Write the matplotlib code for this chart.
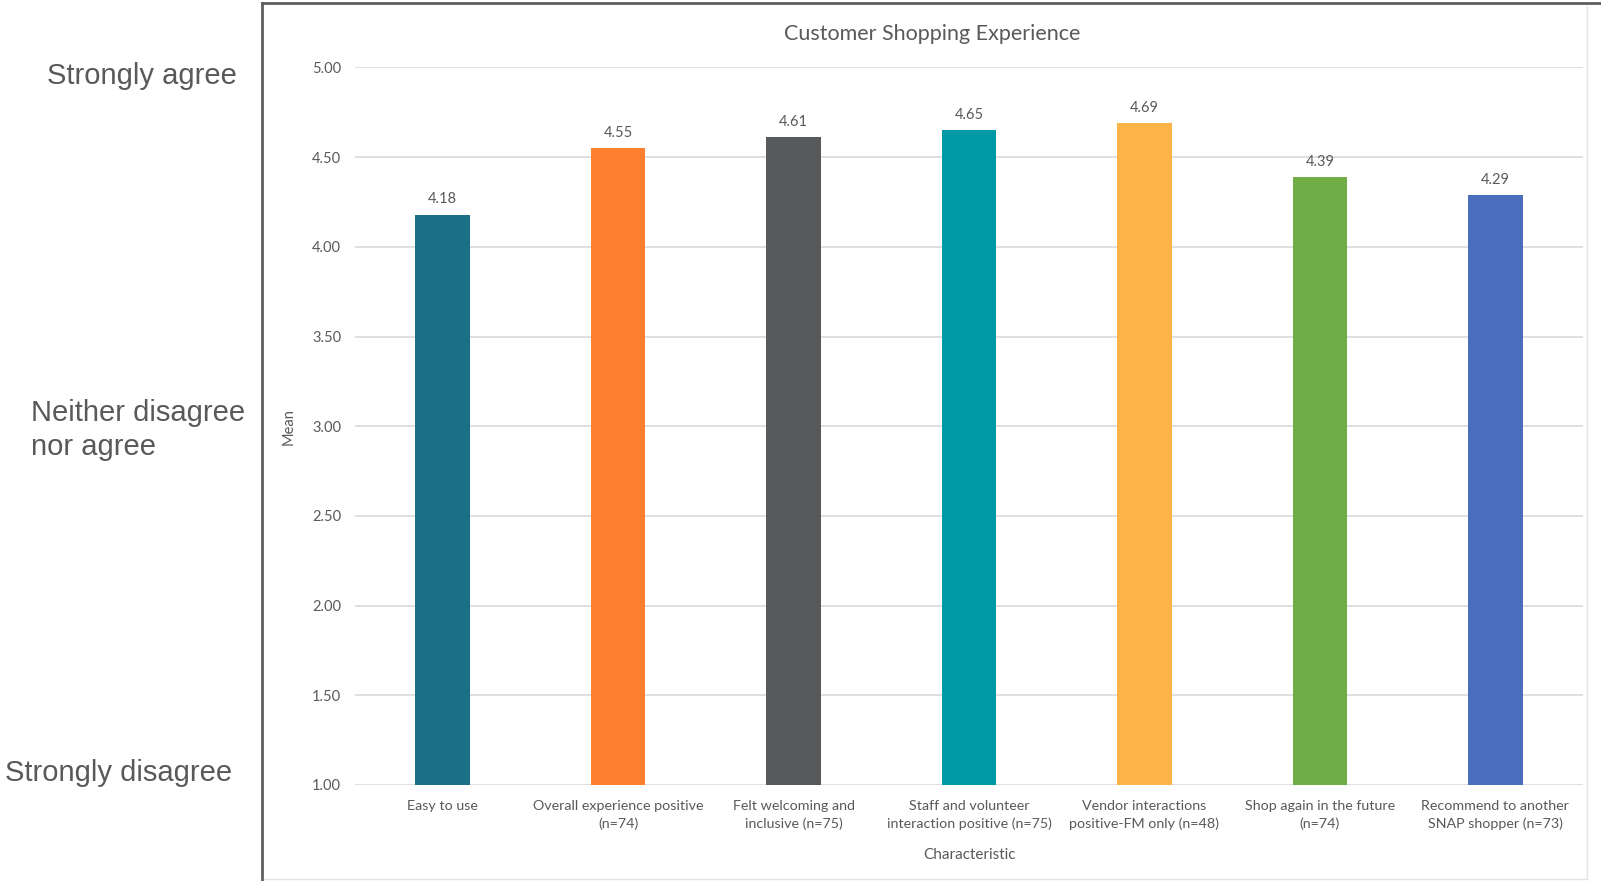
import numpy as np
import matplotlib.pyplot as plt
from matplotlib.lines import Line2D

# dados da pesquisa (media por caracteristica)
categorias = [
    "Easy to use",
    "Overall experience positive\n(n=74)",
    "Felt welcoming and\ninclusive (n=75)",
    "Staff and volunteer\ninteraction positive (n=75)",
    "Vendor interactions\npositive-FM only (n=48)",
    "Shop again in the future\n(n=74)",
    "Recommend to another\nSNAP shopper (n=73)",
]
medias = [4.18, 4.55, 4.61, 4.65, 4.69, 4.39, 4.29]
cores = ["#1B6F86", "#FE7F2D", "#58595B", "#009AA6", "#FDB347", "#70AD47", "#4A6EBB"]
ticks_y = [1.0, 1.5, 2.0, 2.5, 3.0, 3.5, 4.0, 4.5, 5.0]
escala_texto = ["Strongly agree", "Neither disagree\nnor agree", "Strongly disagree"]

cinza = "#595959"
fonte = ["Lato", "DejaVu Sans"]

fig = plt.figure(figsize=(16.01, 8.81), dpi=100)
ax = fig.add_axes([0.2217, 0.109, 0.9888 - 0.2217, 0.9234 - 0.109])

x = np.arange(len(categorias))
barras = ax.bar(x, medias, width=0.31, color=cores, bottom=0, zorder=3)

# rotulos de valor em cima de cada barra
for xi, v in zip(x, medias):
    ax.annotate(f"{v:.2f}", (xi, v), xytext=(0, 6), textcoords="offset points",
                ha="center", va="bottom", fontsize=10.5, color=cinza, family=fonte)

ax.set_ylim(1, 5)
ax.set_xlim(-0.5, len(categorias) - 0.5)
ax.set_yticks(ticks_y)
ax.set_yticklabels([f"{t:.2f}" for t in ticks_y], family=fonte, fontsize=10.5, color=cinza)
ax.set_xticks(x)
ax.set_xticklabels(categorias, family=fonte, fontsize=10.3, color=cinza, linespacing=1.5)
ax.tick_params(axis="both", length=0)
ax.tick_params(axis="y", pad=10)
ax.tick_params(axis="x", pad=11)
ax.grid(axis="y", color="#D9D9D9", linewidth=1.2, zorder=0)
for s in ax.spines.values():
    s.set_visible(False)

ax.set_ylabel("Mean", family=fonte, fontsize=10.5, color=cinza, labelpad=12)
ax.set_xlabel("Characteristic", family=fonte, fontsize=11, color=cinza, labelpad=13)
fig.text(0.582, 0.961, "Customer Shopping Experience", ha="center", va="center",
         family=fonte, fontsize=15.5, color=cinza)

# escala de concordancia do lado esquerdo
fig.text(0.0294, 1 - 75.5 / 881, escala_texto[0], ha="left", va="center",
         family="Liberation Sans", fontsize=21, color=cinza)
fig.text(0.0191, 1 - 430 / 881, escala_texto[1], ha="left", va="center",
         family="Liberation Sans", fontsize=21, color=cinza, linespacing=1.3)
fig.text(0.003, 1 - 773 / 881, escala_texto[2], ha="left", va="center",
         family="Liberation Sans", fontsize=21, color=cinza)

# moldura do grafico
fig.add_artist(Line2D([0.1636, 0.1636], [0, 0.9966], transform=fig.transFigure,
                      color="#5E5E5E", linewidth=2))
fig.add_artist(Line2D([0.1636, 1.0], [0.9966, 0.9966], transform=fig.transFigure,
                      color="#5E5E5E", linewidth=2))
fig.add_artist(Line2D([0.9913, 0.9913], [0.002, 0.993], transform=fig.transFigure,
                      color="#E3E3E3", linewidth=1))
fig.add_artist(Line2D([0.165, 0.9913], [0.002, 0.002], transform=fig.transFigure,
                      color="#E3E3E3", linewidth=1))

fig.savefig("out.png", dpi=100)
